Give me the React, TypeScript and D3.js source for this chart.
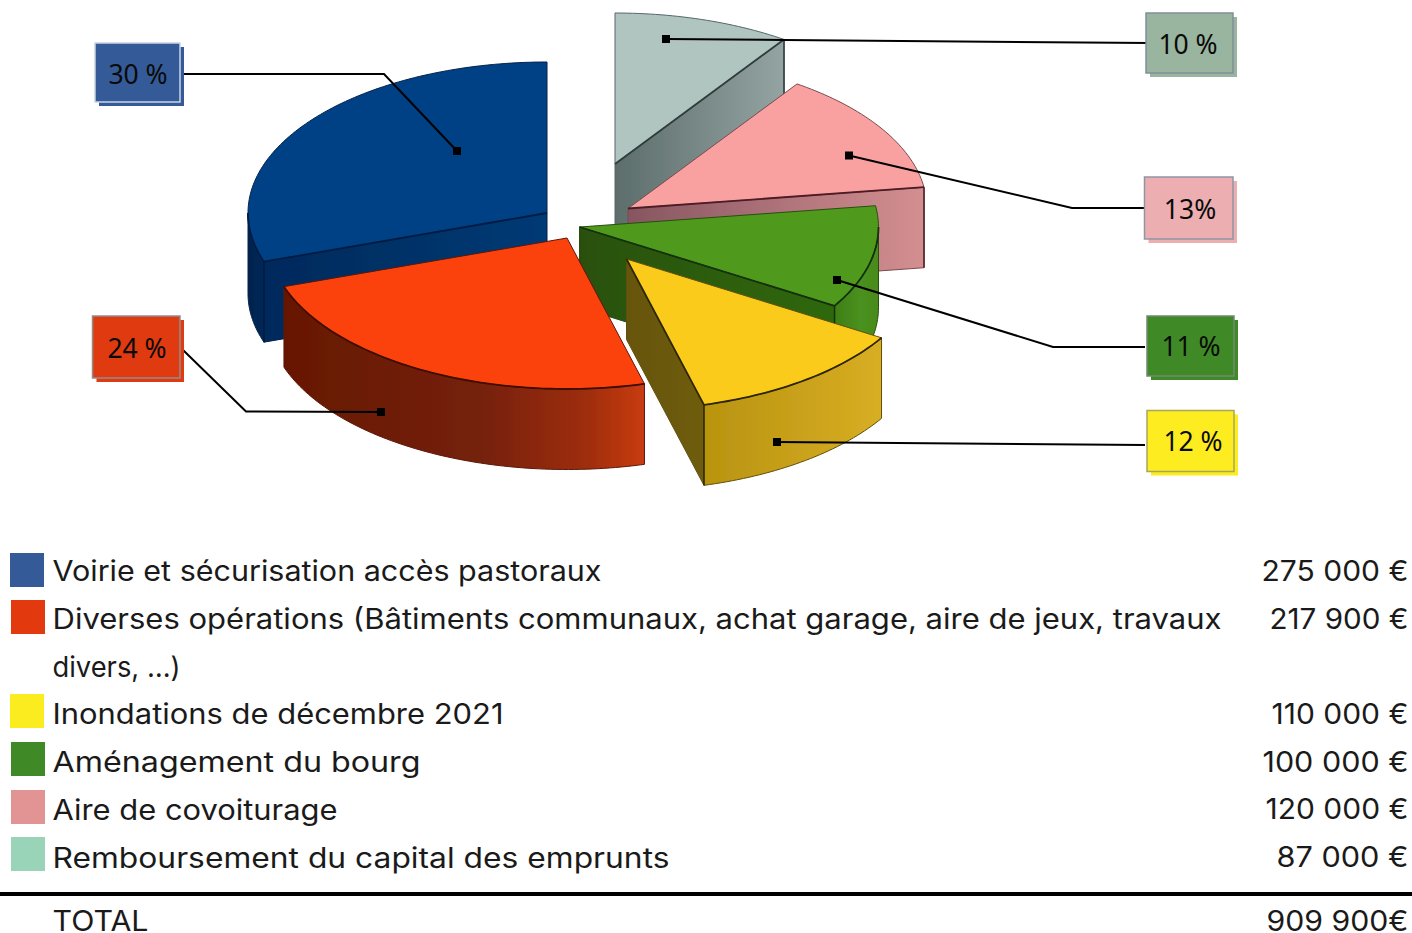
import React from "react";
import * as d3 from "d3";

// ---------- data ----------
const sliceNames = ["Remboursement", "Covoiturage", "Bourg", "Inondations", "Diverses", "Voirie"];
const sliceValues = [87000, 120000, 100000, 110000, 217900, 275000];
const legendLines = [
  "Voirie et sécurisation accès pastoraux",
  "Diverses opérations (Bâtiments communaux, achat garage, aire de jeux, travaux",
  "divers, …)",
  "Inondations de décembre 2021",
  "Aménagement du bourg",
  "Aire de covoiturage",
  "Remboursement du capital des emprunts",
  "TOTAL",
];
const amountLabels = ["275 000 €", "217 900 €", "110 000 €", "100 000 €", "120 000 €", "87 000 €", "909 900€"];
const percentLabels = ["10 %", "13%", "11 %", "12 %", "24 %", "30 %"];

// ---------- layout & style ----------
const RX = 299;
const RY = 151;
const DEPTH = 80.5;
const sliceApex: [number, number][] = [[615, 164], [628, 208.5], [579.5, 227], [626.5, 259], [567, 238], [547, 213]];
const drawOrder = [0, 1, 5, 2, 4, 3];
const topFill = ["#b0c4c0", "#f9a1a1", "#4f9a1c", "#fbcb1c", "#fb430d", "#034184"];
const edgeStroke = ["#2f3d3b", "#4f1f26", "#14300a", "#2f2805", "#3f1002", "#021f45"];
const softStroke = ["#56666a", "#7a4a50", "#25500f", "#5f4f0a", "#5c1808", "#02224c"];
const cutGrad: [number, string][][] = [
  [[0, "#5c6d6b"], [1, "#93a4a2"]],
  [[0, "#865660"], [0.5, "#ad7279"], [1, "#d48f90"]],
  [[0, "#2a5010"], [1, "#2f6810"]],
  [[0, "#665508"], [1, "#6f5c0b"]],
  [[0, "#6e1a08"], [1, "#6e1a08"]],
  [[0, "#032a5c"], [1, "#033a75"]],
];
const rimGrad: [number, string][][] = [
  [[0, "#8a9a98"], [1, "#8a9a98"]],
  [[0, "#c98a8c"], [1, "#d08c8c"]],
  [[0, "#3f7e16"], [0.6, "#4a9120"], [1, "#4a8a1c"]],
  [[0, "#b8940f"], [0.5, "#c8a01a"], [1, "#d8ae22"]],
  [[0, "#661806"], [0.55, "#752107"], [0.85, "#a02e0e"], [1, "#c93c12"]],
  [[0, "#02224c"], [1, "#03295a"]],
];

const labelBoxes = [
  { x: 1146, y: 13, w: 87, h: 60, fill: "#99b49f", stroke: "#7f8f9c", shadow: "#99b49f", tx: 1188, ty: 54 },
  { x: 1144.5, y: 177, w: 88.5, h: 62, fill: "#ecaeb0", stroke: "#8f95a5", shadow: "#ecaeb0", tx: 1190, ty: 219 },
  { x: 1147, y: 316, w: 87, h: 60, fill: "#3f8a26", stroke: "#6f8a72", shadow: "#3f8a26", tx: 1191, ty: 356 },
  { x: 1147, y: 410.5, w: 87, h: 61, fill: "#fcec20", stroke: "#a8a65a", shadow: "#fcec20", tx: 1193, ty: 451 },
  { x: 92.5, y: 316, w: 87.5, h: 62, fill: "#e03a10", stroke: "#8f8f8f", shadow: "#e03a10", tx: 137, ty: 358 },
  { x: 95, y: 43, w: 85, h: 59, fill: "#345b98", stroke: "#c9d3e3", shadow: "#345b98", tx: 138, ty: 84 },
];
const leaderPaths: [number, number][][] = [
  [[1150, 43], [784, 40], [666, 39]],
  [[1144, 208], [1072, 208], [849, 155.5]],
  [[1145, 347], [1053, 347], [837, 280]],
  [[1145, 445], [777, 442]],
  [[183, 350], [246, 411.5], [381, 412]],
  [[180, 74], [384, 74], [457, 151]],
];
const legendSwatches = [
  { x: 10, y: 553, c: "#345b98" },
  { x: 11, y: 600, c: "#e2390e" },
  { x: 10, y: 694, c: "#fbec20" },
  { x: 11, y: 742, c: "#3f8a26" },
  { x: 11, y: 790, c: "#e29494" },
  { x: 11, y: 837, c: "#9ad4b8" },
];
const legendBaselines = [581, 629, 677, 724, 772, 820, 868, 931];
const legendWidths = [549, 1169, 128, 451, 368, 285, 617, 96];
const amountBaselines = [581, 628.5, 723.5, 771.5, 818.5, 866.5, 930.5];
const amountWidths = [147, 139, 137, 146, 143, 132, 142];

// ---------- geometry ----------
const pieAngles = d3.pie<number>().sort(null).startAngle(0).endAngle(2 * Math.PI)(sliceValues);
const line = d3.line<[number, number]>().x((d) => d[0]).y((d) => d[1]);
const ell = (ap: [number, number], a: number, dy = 0): [number, number] => [
  ap[0] + RX * Math.sin(a),
  ap[1] - RY * Math.cos(a) + dy,
];
const arcPts = (ap: [number, number], a0: number, a1: number, dy = 0) => {
  const n = Math.max(2, Math.ceil(Math.abs(a1 - a0) / 0.02));
  return d3.range(n + 1).map((i) => ell(ap, a0 + ((a1 - a0) * i) / n, dy));
};
const Grad = ({ id, x1, x2, stops }: { id: string; x1: number; x2: number; stops: [number, string][] }) => (
  <defs>
    <linearGradient id={id} gradientUnits="userSpaceOnUse" x1={x1} x2={x2} y1={0} y2={0}>
      {stops.map(([o, c], k) => (
        <stop key={k} offset={o} stopColor={c} />
      ))}
    </linearGradient>
  </defs>
);

function Slice({ i }: { i: number }) {
  const { startAngle: a0, endAngle: a1 } = pieAngles[i];
  const ap = sliceApex[i];
  const hard = edgeStroke[i];
  const soft = softStroke[i];
  const faces: React.ReactNode[] = [];
  const ridges: React.ReactNode[] = [];
  const cut = (a: number, key: string) => {
    const p = ell(ap, a);
    const pts: [number, number][] = [ap, p, [p[0], p[1] + DEPTH], [ap[0], ap[1] + DEPTH]];
    faces.push(
      <g key={key}>
        <Grad id={`cut${i}`} x1={Math.min(ap[0], p[0])} x2={Math.max(ap[0], p[0])} stops={cutGrad[i]} />
        <path d={line(pts) + "Z"} fill={`url(#cut${i})`} stroke={soft} strokeWidth={1} strokeLinejoin="round" />
      </g>
    );
    ridges.push(<path key={key + "r"} d={line([ap, p]) ?? ""} fill="none" stroke={hard} strokeWidth={1.8} />);
    ridges.push(
      <path key={key + "v"} d={line([p, [p[0], p[1] + DEPTH]]) ?? ""} fill="none" stroke={hard} strokeWidth={1.5} />
    );
  };
  if (Math.sin(a0) < -1e-6) cut(a0, "c0");
  if (Math.sin(a1) > 1e-6) cut(a1, "c1");
  const r0 = Math.max(a0, Math.PI / 2);
  const r1 = Math.min(a1, (3 * Math.PI) / 2);
  if (r1 > r0) {
    const upper = arcPts(ap, r0, r1);
    const lower = arcPts(ap, r1, r0, DEPTH);
    const xs = upper.map((d) => d[0]);
    faces.push(
      <g key="rim">
        <Grad id={`rim${i}`} x1={d3.min(xs) as number} x2={d3.max(xs) as number} stops={rimGrad[i]} />
        <path d={line([...upper, ...lower]) + "Z"} fill={`url(#rim${i})`} stroke={soft} strokeWidth={1} strokeLinejoin="round" />
      </g>
    );
    ridges.push(<path key="rimr" d={line(upper) ?? ""} fill="none" stroke={hard} strokeWidth={1.8} />);
  }
  const top: [number, number][] = [ap, ...arcPts(ap, a0, a1)];
  return (
    <g data-name={sliceNames[i]}>
      {faces}
      <path d={line(top) + "Z"} fill={topFill[i]} stroke={soft} strokeWidth={1} strokeLinejoin="round" />
      {ridges}
    </g>
  );
}

const labelFont = "'Noto Sans', 'Open Sans', sans-serif";
const legendFont = "Inter, 'Noto Sans', sans-serif";

export default function App() {
  return (
    <svg
      width={1412}
      height={933}
      viewBox="0 0 1412 933"
      style={{ position: "absolute", left: 0, top: 0, display: "block", background: "#fff" }}
    >
      <defs>
        <filter id="soft" x="-5%" y="-5%" width="110%" height="110%">
          <feGaussianBlur stdDeviation={0.5} />
        </filter>
      </defs>
      <g filter="url(#soft)">
        {drawOrder.map((i) => (
          <Slice key={i} i={i} />
        ))}
      </g>

      {leaderPaths.map((pts, i) => {
        const m = pts[pts.length - 1];
        return (
          <g key={i}>
            <path d={line(pts) ?? ""} fill="none" stroke="#000" strokeWidth={2} />
            <rect x={m[0] - 4} y={m[1] - 4} width={8} height={8} fill="#000" />
          </g>
        );
      })}

      {labelBoxes.map((b, i) => (
        <g key={i}>
          <rect x={b.x + 4} y={b.y + 4} width={b.w} height={b.h} fill={b.shadow} />
          <rect x={b.x} y={b.y} width={b.w} height={b.h} fill={b.fill} stroke={b.stroke} strokeWidth={1.5} />
          <text x={b.tx} y={b.ty} textAnchor="middle" fontFamily={labelFont} fontSize={26.5} fill="#0a0a0a">
            {percentLabels[i]}
          </text>
        </g>
      ))}

      {legendSwatches.map((s, i) => (
        <rect key={i} x={s.x} y={s.y} width={34} height={34} fill={s.c} />
      ))}
      {legendLines.map((t, i) => (
        <text
          key={i}
          x={52.5}
          y={legendBaselines[i]}
          fontFamily={legendFont}
          fontSize={28}
          fill="#1a1a1a"
          textLength={legendWidths[i]}
          lengthAdjust="spacingAndGlyphs"
        >
          {t}
        </text>
      ))}
      {amountLabels.map((t, i) => (
        <text
          key={i}
          x={1408.5 - amountWidths[i]}
          y={amountBaselines[i]}
          fontFamily={legendFont}
          fontSize={28}
          fill="#1a1a1a"
          textLength={amountWidths[i]}
          lengthAdjust="spacingAndGlyphs"
        >
          {t}
        </text>
      ))}
      <rect x={0} y={892} width={1412} height={4} fill="#000" />
    </svg>
  );
}
